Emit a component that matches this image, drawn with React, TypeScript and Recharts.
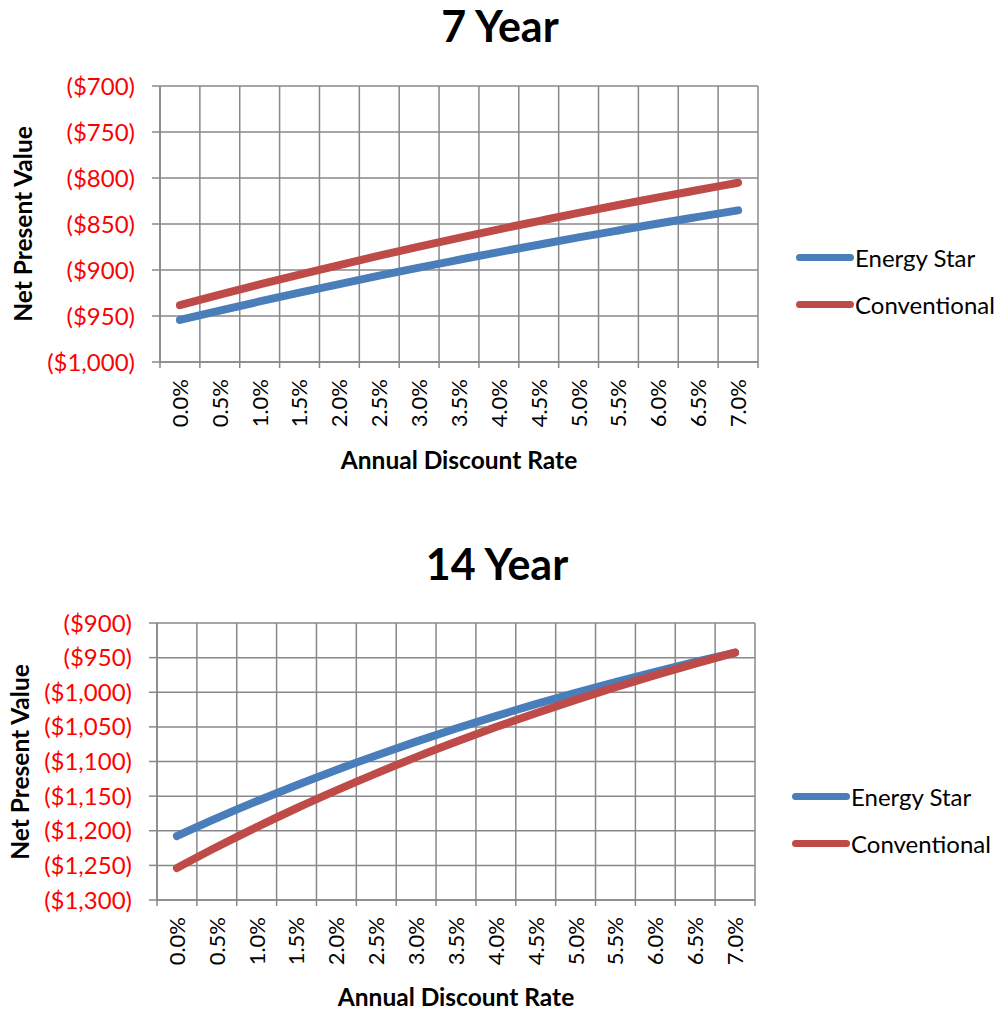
import { LineChart, Line, XAxis, YAxis, CartesianGrid } from "recharts";

const FONT = "Lato, 'Open Sans', sans-serif";
const BLUE = "#4A7EBB";
const RED = "#BE4B48";
const GRID = "#888888";

// discount rates (%), one category each
const RATES = [0, 0.5, 1, 1.5, 2, 2.5, 3, 3.5, 4, 4.5, 5, 5.5, 6, 6.5, 7];
// category boundaries, where Excel draws the vertical grid and tick marks
const BOUNDS = [...RATES.map((r) => r - 0.25), 7.25];

// 7 year NPV
const ES_7 = [-954.3, -944.1, -934.2, -924.6, -915.3, -906.2, -897.4, -888.9, -880.5, -872.5, -864.6, -857.0, -849.5, -842.3, -835.2];
const CONV_7 = [-938.2, -926.8, -915.7, -905.0, -894.6, -884.4, -874.6, -865.1, -855.8, -846.8, -837.9, -829.4, -821.1, -813.1, -805.1];
const Y_TICKS_7 = [-1000, -950, -900, -850, -800, -750, -700];

// 14 year NPV
const ES_14 = [-1207.6, -1181.8, -1157.4, -1134.2, -1112.1, -1091.2, -1071.3, -1052.4, -1034.4, -1017.2, -1000.9, -985.3, -970.5, -956.3, -942.7];
const CONV_14 = [-1253.8, -1223.5, -1194.8, -1167.5, -1141.7, -1117.1, -1093.7, -1071.5, -1050.3, -1030.2, -1011.0, -992.7, -975.3, -958.6, -942.7];
const Y_TICKS_14 = [-1300, -1250, -1200, -1150, -1100, -1050, -1000, -950, -900];

const SERIES = [
  { key: "es", name: "Energy Star", color: BLUE },
  { key: "conv", name: "Conventional", color: RED },
];

const fmtMoney = (v: number) => `($${Math.abs(v).toLocaleString("en-US")})`;
const fmtRate = (v: number) => `${v.toFixed(1)}%`;

function XTick(props: any) {
  const { x, y, payload } = props;
  return (
    <g transform={`translate(${x},${y})`}>
      <text
        transform="rotate(-90)"
        x={-11}
        y={0}
        dy="0.36em"
        textAnchor="end"
        fill="#000"
        fontSize={22}
        fontFamily={FONT}
      >
        {fmtRate(payload.value)}
      </text>
    </g>
  );
}

const NoLabel = () => <g />;

interface NpvChartProps {
  top: number;
  height: number;
  margin: { top: number; right: number; bottom: number; left: number };
  es: number[];
  conv: number[];
  yTicks: number[];
  title: string;
  titleX: number;
  titleY: number;
  yTitleX: number;
  yTitleY: number;
  xTitleX: number;
  xTitleY: number;
  legendX: number;
  legendY: number;
}

function NpvChart(p: NpvChartProps) {
  const data = RATES.map((r, i) => ({ rate: r, es: p.es[i], conv: p.conv[i] }));
  const bold = { position: "absolute" as const, fontFamily: FONT, fontWeight: 700, color: "#000", whiteSpace: "nowrap" as const };
  return (
    <>
      <div style={{ ...bold, left: p.titleX, top: p.titleY, fontSize: 43, transform: "translate(-50%,-50%)" }}>{p.title}</div>
      <div
        style={{
          ...bold,
          left: p.yTitleX,
          top: p.yTitleY,
          fontSize: 24.5,
          transform: "translate(-50%,-50%) rotate(-90deg)",
        }}
      >
        Net Present Value
      </div>
      <div style={{ ...bold, left: p.xTitleX, top: p.xTitleY, fontSize: 24.5, transform: "translate(-50%,-50%)" }}>
        Annual Discount Rate
      </div>
      <div style={{ position: "absolute", left: 0, top: p.top }}>
        <LineChart width={1004} height={p.height} data={data} margin={p.margin}>
          <CartesianGrid xAxisId="grid" verticalValues={BOUNDS} stroke={GRID} strokeWidth={1.5} />
          <XAxis
            xAxisId="grid"
            type="number"
            dataKey="rate"
            domain={[-0.25, 7.25]}
            ticks={BOUNDS}
            interval={0}
            tick={<NoLabel />}
            tickSize={6}
            height={6}
            stroke={GRID}
            strokeWidth={1.5}
          />
          <XAxis
            xAxisId="rate"
            type="number"
            dataKey="rate"
            domain={[-0.25, 7.25]}
            ticks={RATES}
            interval={0}
            tick={<XTick />}
            tickLine={false}
            axisLine={false}
            tickSize={0}
            tickMargin={0}
            height={100}
          />
          <YAxis
            type="number"
            domain={[p.yTicks[0], p.yTicks[p.yTicks.length - 1]]}
            ticks={p.yTicks}
            interval={0}
            width={100}
            tickSize={8}
            tickMargin={17}
            stroke={GRID}
            strokeWidth={1.5}
            tickFormatter={fmtMoney}
            tick={{ fill: "#FF0000", fontSize: 24, fontFamily: FONT }}
          />
          {SERIES.map((s) => (
            <Line
              key={s.key}
              xAxisId="rate"
              type="monotone"
              dataKey={s.key}
              name={s.name}
              stroke={s.color}
              strokeWidth={8}
              strokeLinecap="round"
              dot={false}
              activeDot={false}
              isAnimationActive={false}
            />
          ))}
        </LineChart>
      </div>
      <div style={{ position: "absolute", left: p.legendX, top: p.legendY }}>
        {SERIES.map((s) => (
          <div key={s.key} style={{ display: "flex", alignItems: "center", height: 47 }}>
            <span style={{ display: "inline-block", width: 58, height: 7, borderRadius: 4, background: s.color }} />
            <span style={{ fontFamily: FONT, fontSize: 24, color: "#000", marginLeft: 1 }}>{s.name}</span>
          </div>
        ))}
      </div>
    </>
  );
}

export default function App() {
  return (
    <div style={{ position: "absolute", left: 0, top: 0, width: 1004, height: 1009, background: "#fff", overflow: "hidden" }}>
      <NpvChart
        top={0}
        height={480}
        margin={{ top: 86, right: 246, left: 60, bottom: 12 }}
        es={ES_7}
        conv={CONV_7}
        yTicks={Y_TICKS_7}
        title="7 Year"
        titleX={500}
        titleY={25}
        yTitleX={22}
        yTitleY={224}
        xTitleX={459}
        xTitleY={459}
        legendX={796}
        legendY={234}
      />
      <NpvChart
        top={540}
        height={469}
        margin={{ top: 83, right: 249, left: 57, bottom: 3 }}
        es={ES_14}
        conv={CONV_14}
        yTicks={Y_TICKS_14}
        title="14 Year"
        titleX={497}
        titleY={563}
        yTitleX={19}
        yTitleY={762}
        xTitleX={456}
        xTitleY={996}
        legendX={792}
        legendY={773}
      />
    </div>
  );
}
